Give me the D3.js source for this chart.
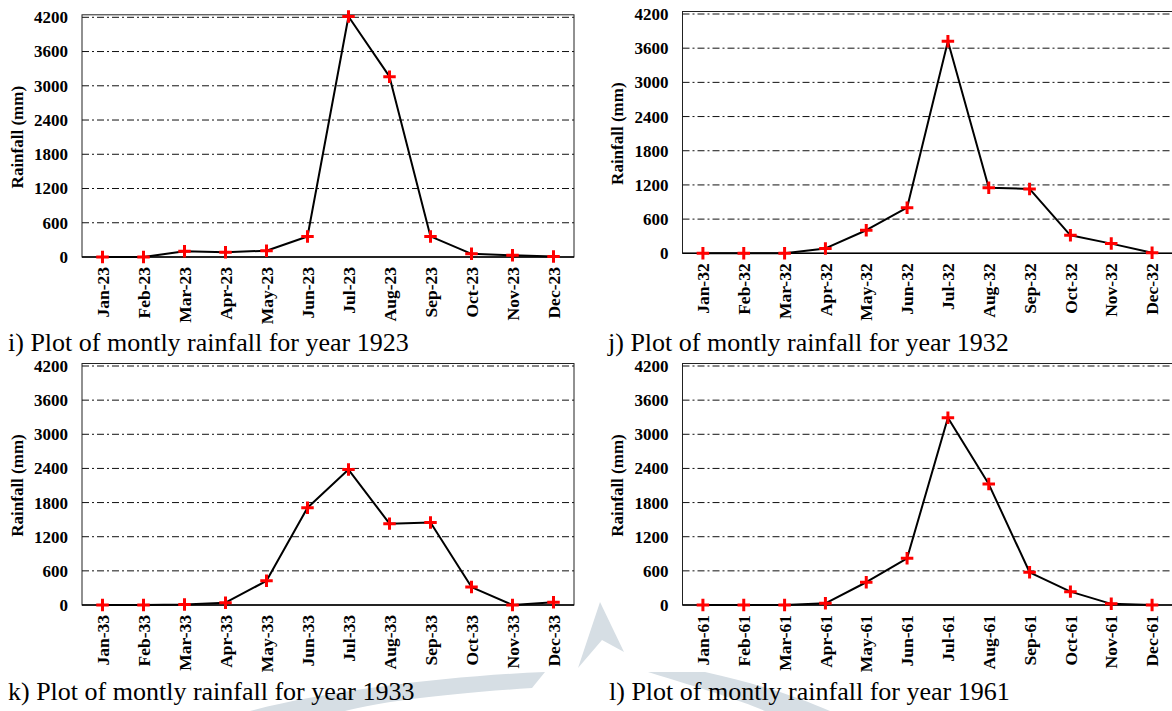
<!DOCTYPE html>
<html>
<head>
<meta charset="utf-8">
<script src="https://cdn.jsdelivr.net/npm/d3@7"></script>
<style>
  body { margin: 0; background: #fff; }
  svg { display: block; }
</style>
</head>
<body>
<div id="chart"></div>
<script>
// monthly rainfall (mm)
const months = ["Jan", "Feb", "Mar", "Apr", "May", "Jun", "Jul", "Aug", "Sep", "Oct", "Nov", "Dec"];
const rain1923 = [0, 0, 100, 85, 110, 360, 4215, 3160, 360, 55, 30, 10];
const rain1932 = [0, 0, 0, 85, 405, 800, 3720, 1150, 1130, 315, 170, 10];
const rain1933 = [0, 0, 10, 40, 425, 1710, 2380, 1430, 1450, 315, 0, 50];
const rain1961 = [0, 0, 0, 30, 400, 820, 3290, 2125, 575, 235, 20, 0];
const yTicks = [0, 600, 1200, 1800, 2400, 3000, 3600, 4200];
const years = ["1923", "1932", "1933", "1961"];
const letters = ["i", "j", "k", "l"];

const W = 1172, H = 711;
const serif = "'Liberation Serif', 'Times New Roman', serif";

// where each small plot sits on the page
const layout = [
	{ values: rain1923, left: 82, right: 574, top: 17.3, bottom: 257, capX: 8, capY: 351 },
	{ values: rain1932, left: 682.5, right: 1172.5, top: 14, bottom: 253.3, capX: 608, capY: 351 },
	{ values: rain1933, left: 82, right: 574, top: 366, bottom: 605, capX: 8, capY: 700 },
	{ values: rain1961, left: 682.5, right: 1172.5, top: 366, bottom: 605, capX: 609, capY: 700 }
];

const svg = d3.select("#chart")
	.append("svg")
	.attr("width", W)
	.attr("height", H)
	.attr("viewBox", [0, 0, W, H]);

// faint watermark behind the bottom row
const mark = svg.append("g").attr("fill", "#d6dee4");
mark.append("path").attr("d", "M578,668 L600,602 L624,652 L602,640 Z");
mark.append("path").attr("d", "M250,711 C330,690 450,676 545,672 L532,688 C440,694 380,702 345,711 Z");
mark.append("path").attr("d", "M648,672 L705,672 C760,684 800,698 830,711 L765,711 C740,700 700,688 648,672 Z");

const plus = {
	draw(ctx, size) {
		const r = Math.sqrt(size) / 2;
		ctx.moveTo(-r, 0); ctx.lineTo(r, 0);
		ctx.moveTo(0, -r); ctx.lineTo(0, r);
	}
};

layout.forEach((p, i) => {
	const yr = years[i].slice(2);
	const labels = months.map(m => `${m}-${yr}`);
	const data = labels.map((l, k) => ({ label: l, value: p.values[k] }));

	const x = d3.scaleBand()
		.domain(labels)
		.range([p.left, p.right]);

	const y = d3.scaleLinear()
		.domain([0, 4200])
		.range([p.bottom, p.top]);

	const cx = d => x(d.label) + x.bandwidth() / 2;

	const g = svg.append("g");

	// frame
	g.append("rect")
		.attr("x", p.left)
		.attr("y", p.top - 2.5)
		.attr("width", p.right - p.left)
		.attr("height", p.bottom - p.top + 2.5)
		.attr("fill", "none")
		.attr("stroke", "#222")
		.attr("stroke-width", 1);

	// dash-dot grid
	g.append("g")
		.selectAll("line")
		.data(yTicks.filter(t => t > 0))
		.join("line")
		.attr("x1", p.left)
		.attr("x2", p.right)
		.attr("y1", d => y(d))
		.attr("y2", d => y(d))
		.attr("stroke", "#111")
		.attr("stroke-width", 1)
		.attr("stroke-dasharray", "7,3,2,3");

	// y axis
	g.append("g")
		.attr("transform", `translate(${p.left},0)`)
		.call(d3.axisLeft(y).tickValues(yTicks).tickFormat(d3.format("d")).tickSize(0).tickPadding(14))
		.call(a => a.select(".domain").remove())
		.call(a => a.selectAll("text")
			.attr("fill", "#000")
			.style("font", `bold 17px ${serif}`));

	// x axis with rotated month labels
	g.append("g")
		.attr("transform", `translate(0,${p.bottom})`)
		.call(d3.axisBottom(x).tickSize(0))
		.call(a => a.select(".domain").remove())
		.call(a => a.selectAll("text")
			.attr("transform", "rotate(-90)")
			.attr("x", -10)
			.attr("y", 0)
			.attr("dy", "0.35em")
			.attr("text-anchor", "end")
			.attr("fill", "#000")
			.style("font", `bold 17.5px ${serif}`));

	// zero line
	g.append("line")
		.attr("x1", p.left)
		.attr("x2", p.right)
		.attr("y1", y(0))
		.attr("y2", y(0))
		.attr("stroke", "#000")
		.attr("stroke-width", 1.6);

	g.append("text")
		.attr("transform", `translate(${p.left - 65},${(p.top + p.bottom) / 2}) rotate(-90)`)
		.attr("text-anchor", "middle")
		.attr("dy", "0.35em")
		.style("font", `bold 17px ${serif}`)
		.text("Rainfall (mm)");

	g.append("path")
		.datum(data)
		.attr("fill", "none")
		.attr("stroke", "#000")
		.attr("stroke-width", 2)
		.attr("stroke-linejoin", "round")
		.attr("d", d3.line().x(cx).y(d => y(d.value)));

	g.append("g")
		.selectAll("path")
		.data(data)
		.join("path")
		.attr("transform", d => `translate(${cx(d)},${y(d.value)})`)
		.attr("d", d3.symbol(plus, 156))
		.attr("fill", "none")
		.attr("stroke", "#ff0000")
		.attr("stroke-width", 3);

	svg.append("text")
		.attr("x", p.capX)
		.attr("y", p.capY)
		.style("font", `26px ${serif}`)
		.attr("fill", "#000")
		.text(`${letters[i]}) Plot of montly rainfall for year ${years[i]}`);
});
</script>
</body>
</html>
